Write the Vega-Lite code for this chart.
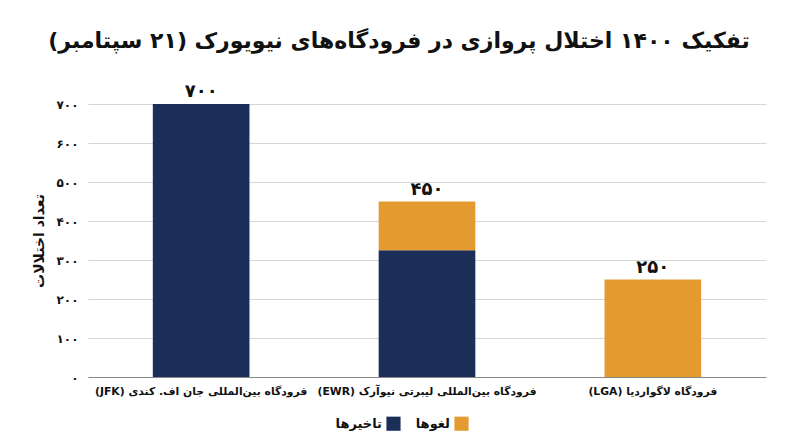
{
  "$schema": "https://vega.github.io/schema/vega-lite/v6.json",
  "width": 800,
  "height": 447,
  "autosize": {"type": "fit", "contains": "padding"},
  "padding": {"left": 32, "right": 34, "top": 30, "bottom": 16},
  "title": {
    "text": "\u202bتفکیک ۱۴۰۰ اختلال پروازی در فرودگاه‌های نیویورک (۲۱ سپتامبر)\u202c",
    "fontSize": 22,
    "fontWeight": "bold",
    "color": "#111111",
    "anchor": "middle",
    "dx": -28,
    "offset": 30
  },
  "data": {
    "values": [
      {"airport": "\u202bفرودگاه بین‌المللی جان اف. کندی (JFK)\u202c", "type": "تاخیرها", "count": 700},
      {"airport": "\u202bفرودگاه بین‌المللی لیبرتی نیوآرک (EWR)\u202c", "type": "تاخیرها", "count": 325},
      {"airport": "\u202bفرودگاه بین‌المللی لیبرتی نیوآرک (EWR)\u202c", "type": "لغوها", "count": 125},
      {"airport": "\u202bفرودگاه لاگواردیا (LGA)\u202c", "type": "لغوها", "count": 250}
    ]
  },
  "encoding": {
    "x": {
      "field": "airport",
      "type": "nominal",
      "sort": null,
      "title": null,
      "scale": {"paddingInner": 0.572, "paddingOuter": 0.287},
      "axis": {
        "labelAngle": 0,
        "labelFontSize": 10.8,
        "labelFontWeight": "bold",
        "labelColor": "#111111",
        "labelPadding": 8,
        "labelLimit": 400,
        "ticks": false,
        "domainColor": "#888888"
      }
    },
    "y": {
      "field": "count",
      "type": "quantitative",
      "aggregate": "sum",
      "stack": "zero",
      "title": "تعداد اختلالات",
      "scale": {"domain": [0, 700], "nice": false},
      "axis": {
        "values": [0, 100, 200, 300, 400, 500, 600, 700],
        "labelOverlap": false,
        "domain": false,
        "ticks": false,
        "labelFontSize": 12,
        "labelFontWeight": "bold",
        "labelColor": "#111111",
        "labelPadding": 10,
        "titleFontSize": 14,
        "titleFontWeight": "bold",
        "titleColor": "#111111",
        "titlePadding": 10,
        "gridColor": "#d6d6d6"
      }
    }
  },
  "layer": [
    {
      "mark": {"type": "bar"},
      "encoding": {
        "color": {
          "field": "type",
          "type": "nominal",
          "title": null,
          "scale": {"domain": ["تاخیرها", "لغوها"], "range": ["#1b2e58", "#e39b30"]},
          "legend": {
            "orient": "bottom",
            "direction": "horizontal",
            "symbolType": "square",
            "symbolSize": 200,
            "symbolStrokeWidth": 0,
            "labelFontSize": 13,
            "labelFontWeight": "bold",
            "labelColor": "#111111",
            "labelAlign": "right",
            "labelOffset": -19,
            "columnPadding": 14,
            "offset": 20
          }
        },
        "order": {"field": "type", "sort": "ascending"}
      }
    },
    {
      "mark": {"type": "text", "dy": -12, "fontSize": 18, "fontWeight": "bold", "color": "#111111"},
      "encoding": {
        "text": {"field": "count", "type": "quantitative", "aggregate": "sum", "format": "d"}
      }
    }
  ],
  "config": {
    "font": "DejaVu Sans",
    "view": {"stroke": null},
    "legend": {"layout": {"bottom": {"anchor": "middle"}}},
    "locale": {
      "number": {
        "decimal": ".",
        "thousands": ",",
        "grouping": [3],
        "currency": ["", ""],
        "numerals": ["۰", "۱", "۲", "۳", "۴", "۵", "۶", "۷", "۸", "۹"]
      }
    }
  }
}
